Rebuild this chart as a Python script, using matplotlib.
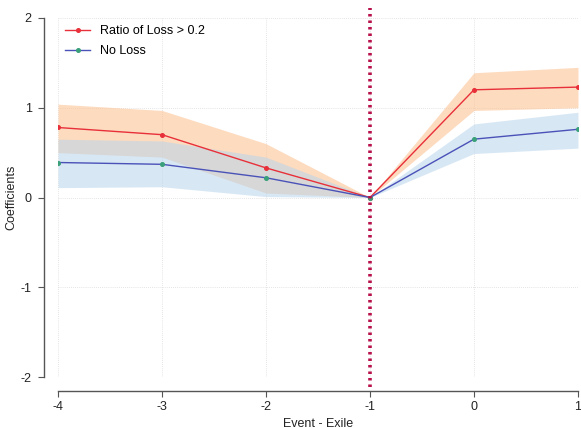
import matplotlib
matplotlib.use("Agg")
import matplotlib.pyplot as plt
import numpy as np

plt.rcParams.update({"font.family": "Liberation Sans", "font.size": 9,
                     "axes.unicode_minus": False})

# event time relative to exile
periods = [-4, -3, -2, -1, 0, 1]

# Ratio of Loss > 0.2
loss_coef = [0.78, 0.70, 0.33, 0.0, 1.20, 1.23]
loss_lo = [0.50, 0.45, 0.05, 0.0, 0.97, 1.00]
loss_hi = [1.04, 0.97, 0.60, 0.0, 1.39, 1.45]

# No Loss
noloss_coef = [0.39, 0.37, 0.22, 0.0, 0.65, 0.76]
noloss_lo = [0.11, 0.12, 0.01, 0.0, 0.49, 0.55]
noloss_hi = [0.65, 0.63, 0.45, 0.0, 0.82, 0.95]

yticks = [-2, -1, 0, 1, 2]

fig = plt.figure(figsize=(5.81, 4.28), dpi=100)
ax = fig.add_axes([0.0998, 0.119, 0.895, 0.839])

ax.fill_between(periods, loss_lo, loss_hi, color="#fdc395", alpha=0.6, lw=0)
ax.fill_between(periods, noloss_lo, noloss_hi, color="#b8d5ec", alpha=0.55, lw=0)

ax.plot(periods, loss_coef, color="#e8303a", lw=1.0, marker="o", ms=2.6,
        mfc="#e8303a", mec="#e8303a", label="Ratio of Loss > 0.2")
ax.plot(periods, noloss_coef, color="#4a52b8", lw=1.0, marker="o", ms=2.6,
        mfc="#3aa07a", mec="#3aa07a", label="No Loss")

ax.axvline(-1, ymin=-0.028, ymax=1.028, color="#b8104a", lw=2.6,
           ls=(0, (0.7, 1.1)), clip_on=False, zorder=5)

ax.set_xlim(-4, 1)
ax.set_ylim(-2, 2)
ax.set_xticks(periods)
ax.set_yticks(yticks)
ax.grid(True, color="#dcdcdc", lw=0.6, ls=(0, (1, 1.5)))
ax.set_axisbelow(True)

for side in ("top", "right"):
    ax.spines[side].set_visible(False)
for side in ("left", "bottom"):
    ax.spines[side].set_position(("outward", 10))
    ax.spines[side].set_color("#555555")
    ax.spines[side].set_linewidth(1.0)
ax.tick_params(colors="#555555", labelcolor="#222222", length=4, width=0.8)
ax.tick_params(axis="y", pad=5)

ax.set_xlabel("Event - Exile", fontsize=9, color="#222222", labelpad=3)
ax.set_ylabel("Coefficients", fontsize=9, color="#222222", labelpad=10)
ax.yaxis.set_label_coords(-0.078, 0.5)

ax.legend(loc="upper left", frameon=False, fontsize=9, handlelength=2.0,
          borderaxespad=0.2, labelspacing=0.6, bbox_to_anchor=(0.0, 1.0))

fig.savefig("out.png", dpi=100)
